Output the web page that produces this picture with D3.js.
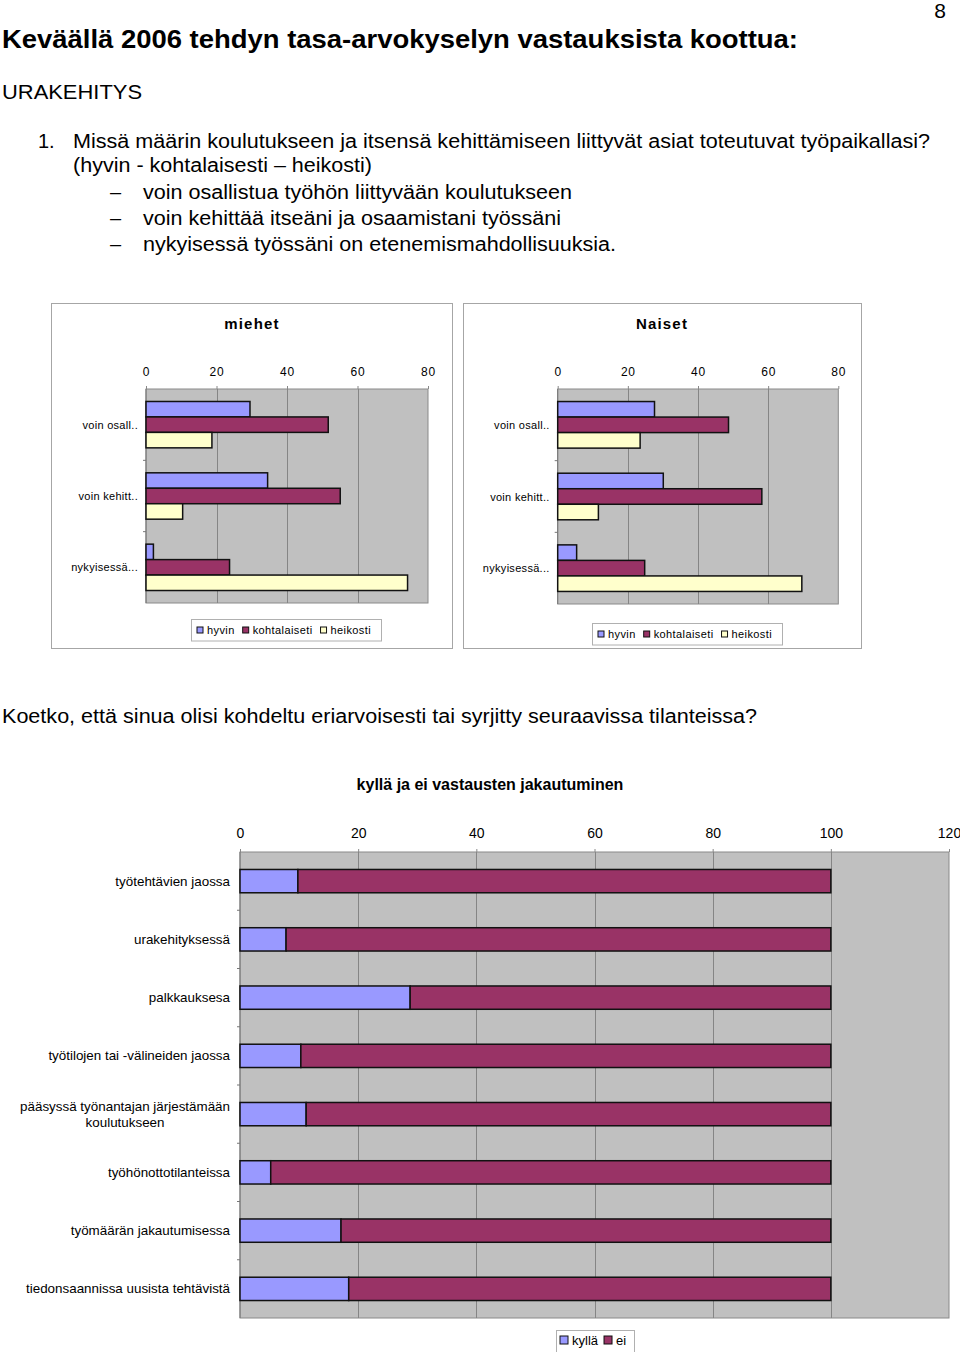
<!DOCTYPE html>
<html><head><meta charset="utf-8">
<script src="https://cdn.jsdelivr.net/npm/d3@7"></script>
<style>
html,body{margin:0;padding:0;background:#fff;}
svg{display:block;font-family:"Liberation Sans",Arial,sans-serif;}
</style></head>
<body>
<svg id="c" width="960" height="1352"></svg>
<script>
// ---------- DATA ----------
const questions = ["voin osall..", "voin kehitt..", "nykyisessä..."];
const seriesNames = ["hyvin", "kohtalaiseti", "heikosti"];
const smallTicks = [0, 20, 40, 60, 80];
const miehetHyvin = [29.5, 34.5, 2.1];
const miehetKoht = [51.7, 55.1, 23.7];
const miehetHeik = [18.7, 10.4, 74.2];
const naisetHyvin = [27.6, 30.1, 5.4];
const naisetKoht = [48.7, 58.2, 24.8];
const naisetHeik = [23.5, 11.6, 69.6];

const situations = ["työtehtävien jaossa", "urakehityksessä", "palkkauksesa",
  "työtilojen tai -välineiden jaossa", "pääsyssä työnantajan järjestämään\nkoulutukseen",
  "työhönottotilanteissa", "työmäärän jakautumisessa", "tiedonsaannissa uusista tehtävistä"];
const kyllaValues = [9.8, 7.8, 28.8, 10.3, 11.2, 5.2, 17.1, 18.4];
const eiValues = [90.2, 92.2, 71.2, 89.7, 88.8, 94.8, 82.9, 81.6];
const bigTicks = [0, 20, 40, 60, 80, 100, 120];
const bigSeries = ["kyllä", "ei"];

// ---------- STYLE ----------
const colors = ["#9999ff", "#993366", "#ffffcc"];
const plotBg = "#c0c0c0", gridCol = "#858585";

const svg = d3.select("#c");

// ---------- TEXT BLOCK ----------
function txt(x, y, s, size, opts = {}) {
  const t = svg.append("text").attr("x", x).attr("y", y).text(s)
    .attr("font-size", size).attr("fill", "#000");
  if (opts.bold) t.attr("font-weight", "bold");
  if (opts.anchor) t.attr("text-anchor", opts.anchor);
  if (opts.len) t.attr("textLength", opts.len).attr("lengthAdjust", "spacingAndGlyphs");
  return t;
}
txt(946, 18, "8", 21, {anchor: "end"});
txt(2, 48, "Keväällä 2006 tehdyn tasa-arvokyselyn vastauksista koottua:", 26, {bold: true, len: 796});
txt(2, 99, "URAKEHITYS", 21, {len: 140});
txt(38, 148, "1.", 20);
txt(73, 148, "Missä määrin koulutukseen ja itsensä kehittämiseen liittyvät asiat toteutuvat työpaikallasi?", 20, {len: 857});
txt(73, 172, "(hyvin - kohtalaisesti – heikosti)", 20, {len: 299});
const bullets = ["voin osallistua työhön liittyvään koulutukseen",
  "voin kehittää itseäni ja osaamistani työssäni",
  "nykyisessä työssäni on etenemismahdollisuuksia."];
const bulletLens = [429, 418, 473];
bullets.forEach((b, i) => {
  txt(110, 199 + i * 26, "–", 20);
  txt(143, 199 + i * 26, b, 20, {len: bulletLens[i]});
});
txt(2, 723, "Koetko, että sinua olisi kohdeltu eriarvoisesti tai syrjitty seuraavissa tilanteissa?", 20, {len: 755});

// ---------- SMALL CHARTS ----------
function smallChart(cfg) {
  const g = svg.append("g");
  g.append("rect").attr("x", cfg.fx + 0.5).attr("y", 303.5).attr("width", cfg.fw).attr("height", 345)
    .attr("fill", "#fff").attr("stroke", "#a6a6a6").attr("stroke-width", 1);
  g.append("text").attr("x", cfg.titleX).attr("y", 329).attr("text-anchor", "middle")
    .attr("font-size", 15).attr("font-weight", "bold").attr("letter-spacing", 1.2).text(cfg.title);

  const x = d3.scaleLinear().domain([0, 80]).range([cfg.x0, cfg.x1]);
  const y = d3.scaleBand().domain(questions).range([389, cfg.yb]).paddingInner(0.35).paddingOuter(0.175);
  const ys = d3.scaleBand().domain(seriesNames).range([0, y.bandwidth()]);

  g.append("rect").attr("x", x(0)).attr("y", 389).attr("width", x(80) - x(0)).attr("height", cfg.yb - 389)
    .attr("fill", plotBg).attr("stroke", "#8a8a8a").attr("stroke-width", 1);
  g.append("g").selectAll("line").data(smallTicks.slice(1, -1)).join("line")
    .attr("x1", d => Math.round(x(d)) + 0.5).attr("x2", d => Math.round(x(d)) + 0.5)
    .attr("y1", 389).attr("y2", cfg.yb).attr("stroke", gridCol).attr("stroke-width", 1);

  const ax = d3.axisTop(x).tickValues(smallTicks).tickSize(3).tickPadding(10);
  const axg = g.append("g").attr("transform", "translate(0,389)").call(ax);
  axg.select(".domain").remove();
  axg.selectAll("line").attr("stroke", "#888");
  axg.selectAll("text").attr("font-size", 12).attr("letter-spacing", 0.8)
    .attr("font-family", "Liberation Sans, Arial, sans-serif").attr("fill", "#000");

  const yb = d3.scaleBand().domain(questions).range([389, cfg.yb]);
  g.append("line").attr("x1", x(0)).attr("x2", x(0)).attr("y1", 389).attr("y2", cfg.yb).attr("stroke", "#777");
  g.append("g").selectAll("line").data(questions.slice(1)).join("line")
    .attr("x1", x(0) - 3).attr("x2", x(0)).attr("y1", d => yb(d)).attr("y2", d => yb(d)).attr("stroke", "#777");
  g.append("g").selectAll("text").data(questions).join("text")
    .attr("x", x(0) - 8).attr("y", d => yb(d) + yb.bandwidth() / 2 + 4)
    .attr("text-anchor", "end").attr("font-size", 11).attr("letter-spacing", 0.3).text(d => d);

  const data = [cfg.h, cfg.k, cfg.he];
  seriesNames.forEach((s, si) => {
    g.append("g").selectAll("rect").data(questions).join("rect")
      .attr("x", x(0)).attr("y", d => y(d) + ys(s))
      .attr("width", (d, i) => x(data[si][i]) - x(0)).attr("height", ys.bandwidth())
      .attr("fill", colors[si]).attr("stroke", "#111").attr("stroke-width", 1.5);
  });

  const lg = g.append("g");
  lg.append("rect").attr("x", cfg.lx + 0.5).attr("y", cfg.ly + 0.5).attr("width", 190).attr("height", 21.5)
    .attr("fill", "#fff").attr("stroke", "#b0b0b0");
  let cx = cfg.lx + 6;
  seriesNames.forEach((s, si) => {
    lg.append("rect").attr("x", cx).attr("y", cfg.ly + 8).attr("width", 6).attr("height", 6)
      .attr("fill", colors[si]).attr("stroke", "#111").attr("stroke-width", 1);
    const t = lg.append("text").attr("x", cx + 10).attr("y", cfg.ly + 15).attr("font-size", 11)
      .attr("letter-spacing", 0.4).text(s);
    cx += 10 + t.node().getComputedTextLength() + 8;
  });
}

smallChart({fx: 51, fw: 401, title: "miehet", titleX: 252, x0: 146, x1: 428, yb: 603,
  h: miehetHyvin, k: miehetKoht, he: miehetHeik, lx: 191, ly: 619});
smallChart({fx: 463, fw: 398, title: "Naiset", titleX: 662, x0: 557.7, x1: 838.3, yb: 604,
  h: naisetHyvin, k: naisetKoht, he: naisetHeik, lx: 592, ly: 623});

// ---------- BIG CHART ----------
{
  const g = svg.append("g");
  g.append("text").attr("x", 490).attr("y", 790).attr("text-anchor", "middle")
    .attr("font-size", 16).attr("font-weight", "bold").text("kyllä ja ei vastausten jakautuminen");
  const x = d3.scaleLinear().domain([0, 120]).range([240, 949]);
  const yTop = 852, yBot = 1318;
  const y = d3.scaleBand().domain(situations).range([yTop, yBot]).paddingInner(0.6).paddingOuter(0.3);
  const yb = d3.scaleBand().domain(situations).range([yTop, yBot]);

  g.append("rect").attr("x", x(0)).attr("y", yTop).attr("width", x(120) - x(0)).attr("height", yBot - yTop)
    .attr("fill", plotBg).attr("stroke", "#8a8a8a");
  g.append("g").selectAll("line").data(bigTicks.slice(1, -1)).join("line")
    .attr("x1", d => Math.round(x(d)) + 0.5).attr("x2", d => Math.round(x(d)) + 0.5)
    .attr("y1", yTop).attr("y2", yBot).attr("stroke", gridCol);

  const ax = d3.axisTop(x).tickValues(bigTicks).tickSize(3).tickPadding(11);
  const axg = g.append("g").attr("transform", `translate(0,${yTop})`).call(ax);
  axg.select(".domain").remove();
  axg.selectAll("line").attr("stroke", "#888");
  axg.selectAll("text").attr("font-size", 14).attr("fill", "#000")
    .attr("font-family", "Liberation Sans, Arial, sans-serif");

  g.append("line").attr("x1", x(0)).attr("x2", x(0)).attr("y1", yTop).attr("y2", yBot).attr("stroke", "#777");
  g.append("g").selectAll("line").data(situations.slice(1)).join("line")
    .attr("x1", x(0) - 3).attr("x2", x(0)).attr("y1", d => yb(d)).attr("y2", d => yb(d)).attr("stroke", "#777");

  situations.forEach(s => {
    const lines = s.split("\n");
    const cy = yb(s) + yb.bandwidth() / 2;
    const t = g.append("text").attr("font-size", 13.4).attr("fill", "#000");
    lines.forEach((l, i) => t.append("tspan").attr("y", cy + 4.5 + (i - (lines.length - 1) / 2) * 16).text(l));
    const widths = [];
    t.selectAll("tspan").each(function () { widths.push(this.getComputedTextLength()); });
    const maxW = d3.max(widths);
    const center = 230 - maxW / 2;
    t.attr("text-anchor", "middle").selectAll("tspan").attr("x", center);
  });

  g.append("g").selectAll("rect").data(situations).join("rect")
    .attr("x", x(0)).attr("y", d => y(d)).attr("width", (d, i) => x(kyllaValues[i]) - x(0))
    .attr("height", y.bandwidth()).attr("fill", colors[0]).attr("stroke", "#111").attr("stroke-width", 1.5);
  g.append("g").selectAll("rect").data(situations).join("rect")
    .attr("x", (d, i) => x(kyllaValues[i])).attr("y", d => y(d))
    .attr("width", (d, i) => x(kyllaValues[i] + eiValues[i]) - x(kyllaValues[i]))
    .attr("height", y.bandwidth()).attr("fill", colors[1]).attr("stroke", "#111").attr("stroke-width", 1.5);

  const lg = g.append("g");
  lg.append("rect").attr("x", 556.5).attr("y", 1330.5).attr("width", 78).attr("height", 22)
    .attr("fill", "#fff").attr("stroke", "#b0b0b0");
  let cx = 560;
  bigSeries.forEach((s, si) => {
    lg.append("rect").attr("x", cx).attr("y", 1336).attr("width", 8).attr("height", 8)
      .attr("fill", colors[si]).attr("stroke", "#111");
    const t = lg.append("text").attr("x", cx + 12).attr("y", 1345).attr("font-size", 13).text(s);
    cx += 12 + t.node().getComputedTextLength() + 6;
  });
}
</script>
</body></html>
